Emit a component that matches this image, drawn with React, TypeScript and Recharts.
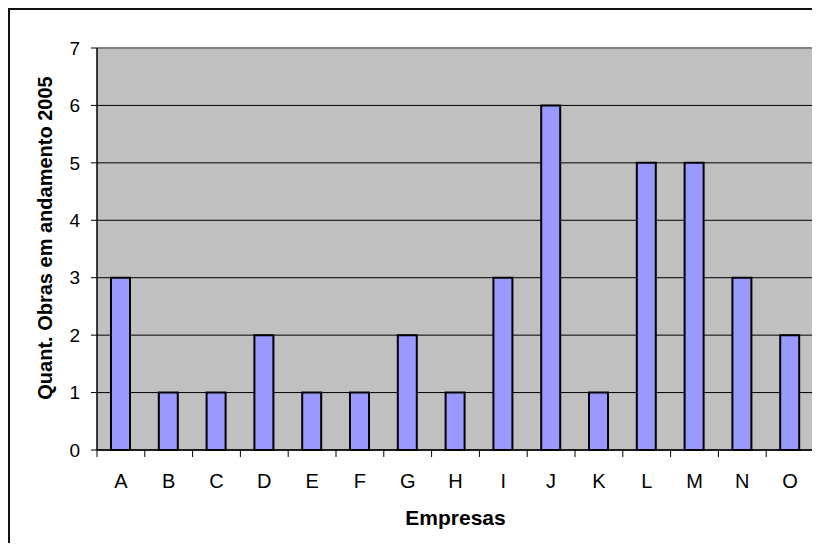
import { BarChart, Bar, XAxis, YAxis, CartesianGrid, ReferenceLine } from 'recharts';

const empresas = ['A', 'B', 'C', 'D', 'E', 'F', 'G', 'H', 'I', 'J', 'K', 'L', 'M', 'N', 'O'];
const obras = [3, 1, 1, 2, 1, 1, 2, 1, 3, 6, 1, 5, 5, 3, 2];
const yTicks = [0, 1, 2, 3, 4, 5, 6, 7];

const data = empresas.map((empresa, i) => ({ empresa, obras: obras[i] }));

const FONT = '"Liberation Sans", Arial, sans-serif';

function YTitle({ viewBox }: any) {
  const x = viewBox.x + 35;
  const y = viewBox.y + viewBox.height / 2 - 11;
  return (
    <text
      x={x}
      y={y}
      transform={`rotate(-90, ${x}, ${y})`}
      textAnchor="middle"
      dominantBaseline="central"
      fontFamily={FONT}
      fontWeight="bold"
      fontSize={20}
      fill="#000"
    >
      Quant. Obras em andamento 2005
    </text>
  );
}

// category label plus the tick marks on the category boundaries
function EmpresaTick({ x, y, payload, index }: any) {
  const half = payload.offset ?? 0;
  const last = index === empresas.length - 1;
  return (
    <g>
      <line x1={x - half} y1={y} x2={x - half} y2={y + 7} stroke="#000" />
      {last && <line x1={x + half} y1={y} x2={x + half} y2={y + 7} stroke="#000" />}
      <text
        x={x}
        y={y + 38}
        textAnchor="middle"
        fontFamily={FONT}
        fontSize={20}
        fill="#000"
      >
        {payload.value}
      </text>
    </g>
  );
}

export default function App() {
  return (
    <div
      style={{
        width: 812,
        height: 535,
        boxSizing: 'border-box',
        borderTop: '2px solid #111',
        borderLeft: '2px solid #111',
        background: '#fff',
        overflow: 'hidden',
      }}
    >
      <BarChart
        width={810}
        height={533}
        data={data}
        margin={{ top: 38, right: 6, left: 0, bottom: 0 }}
        barSize={19}
      >
        <CartesianGrid
          horizontal
          vertical={false}
          stroke="#000"
          fill="#C0C0C0"
          fillOpacity={1}
        />
        <XAxis
          dataKey="empresa"
          height={93}
          tickLine={false}
          tickSize={0}
          tickMargin={0}
          axisLine={{ stroke: '#000', strokeWidth: 1.5 }}
          tick={<EmpresaTick />}
          interval={0}
          label={{
            value: 'Empresas',
            position: 'insideBottom',
            offset: 18,
            fill: '#000',
            fontSize: 21,
            fontWeight: 'bold',
            fontFamily: FONT,
          }}
        />
        <YAxis
          width={87}
          domain={[0, 7]}
          ticks={yTicks}
          interval={0}
          tickSize={6}
          tickMargin={11}
          tickLine={{ stroke: '#000' }}
          axisLine={{ stroke: '#000', strokeWidth: 1.5 }}
          tick={{ fill: '#000', fontSize: 19, fontFamily: FONT }}
          label={<YTitle />}
        />
        <YAxis
          yAxisId="r"
          orientation="right"
          width={0}
          domain={[0, 7]}
          tick={false}
          tickLine={false}
          axisLine={{ stroke: '#808080', strokeWidth: 2 }}
        />
        <ReferenceLine y={7} stroke="#808080" strokeWidth={2} />
        <Bar
          dataKey="obras"
          fill="#9999FF"
          stroke="#000"
          strokeWidth={2}
          isAnimationActive={false}
        />
      </BarChart>
    </div>
  );
}
